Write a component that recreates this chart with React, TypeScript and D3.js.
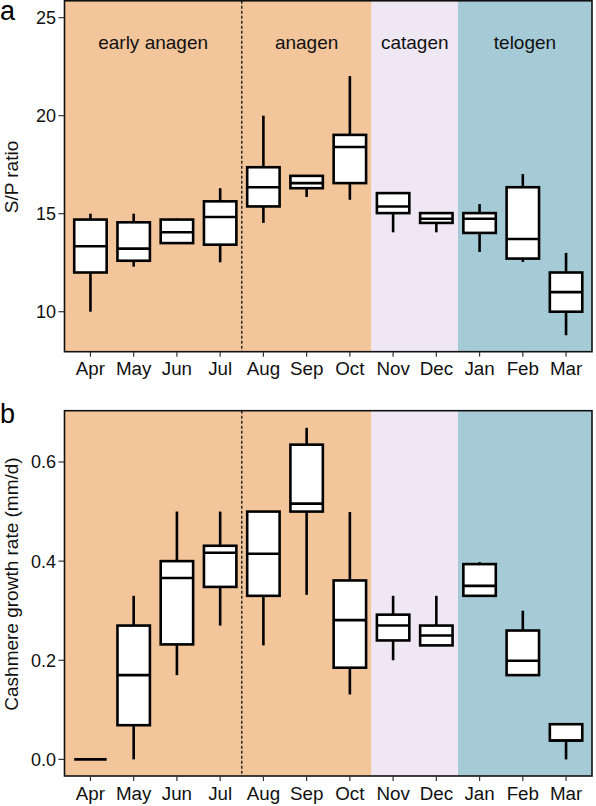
import React from "react";
import * as d3 from "d3";

const months = ["Apr", "May", "Jun", "Jul", "Aug", "Sep", "Oct", "Nov", "Dec", "Jan", "Feb", "Mar"];

// S/P ratio boxes
const spMin = [10.0, 12.3, 13.5, 12.52, 14.53, 15.85, 15.71, 14.05, 14.05, 13.05, 12.54, 8.8];
const spQ1 = [12.0, 12.6, 13.5, 13.42, 15.37, 16.3, 16.56, 15.03, 14.53, 14.02, 12.71, 10.0];
const spMed = [13.34, 13.22, 14.05, 14.83, 16.35, 16.56, 18.4, 15.37, 14.74, 14.74, 13.71, 11.0];
const spQ3 = [14.7, 14.56, 14.7, 15.63, 17.37, 16.93, 19.02, 16.05, 15.03, 15.03, 16.35, 12.0];
const spMax = [15.0, 15.0, 14.75, 16.3, 20.0, 16.93, 22.02, 16.05, 15.03, 15.49, 17.02, 13.0];

// Cashmere growth rate boxes
const grMin = [0, 0, 0.17, 0.27, 0.23, 0.332, 0.131, 0.2, 0.23, 0.33, 0.17, 0.0];
const grQ1 = [0, 0.069, 0.232, 0.348, 0.33, 0.5, 0.185, 0.24, 0.23, 0.33, 0.17, 0.038];
const grMed = [0, 0.17, 0.366, 0.417, 0.415, 0.516, 0.281, 0.27, 0.25, 0.35, 0.199, 0.038];
const grQ3 = [0, 0.27, 0.4, 0.431, 0.5, 0.635, 0.361, 0.292, 0.27, 0.394, 0.26, 0.071];
const grMax = [0, 0.33, 0.5, 0.5, 0.5, 0.669, 0.499, 0.33, 0.33, 0.398, 0.3, 0.071];

const spTicks = [10, 15, 20, 25];
const grTicks = [0.0, 0.2, 0.4, 0.6];

const phases = [
  { name: "early anagen", from: "Apr", to: "Jul", color: "#F2C59B" },
  { name: "anagen", from: "Aug", to: "Oct", color: "#F2C59B" },
  { name: "catagen", from: "Nov", to: "Dec", color: "#EFE7F4" },
  { name: "telogen", from: "Jan", to: "Mar", color: "#A2C9D5" },
];

const LEFT = 64.5;
const RIGHT = 592;
const FONT = "'Liberation Sans', Arial, Helvetica, sans-serif";

const x = d3.scalePoint<string>().domain(months).range([LEFT, RIGHT]).padding(0.6);
const step = x.step();
const boxW = step * 0.75;

type PanelProps = {
  top: number;
  bottom: number;
  domain: [number, number];
  ticks: number[];
  fmt: (v: number) => string;
  mins: number[];
  q1: number[];
  med: number[];
  q3: number[];
  maxs: number[];
  ylabel: string;
  ylabelY: number;
  letter: string;
  letterY: number;
  showPhaseNames: boolean;
  patternId: string;
};

function Panel(p: PanelProps) {
  const y = d3.scaleLinear().domain(p.domain).range([p.bottom, p.top]);
  return (
    <g>
      {phases.map((ph, i) => {
        const x0 = i === 0 ? LEFT : (x(ph.from) as number) - step / 2;
        const x1 = i === phases.length - 1 ? RIGHT : (x(ph.to) as number) + step / 2;
        return (
          <g key={ph.name}>
            <rect x={x0} y={p.top} width={x1 - x0} height={p.bottom - p.top} fill={ph.color} />
            {ph.name === "telogen" && (
              <rect x={x0} y={p.top} width={x1 - x0} height={p.bottom - p.top} fill={`url(#${p.patternId})`} />
            )}
            {p.showPhaseNames && (
              <text
                x={(x0 + x1) / 2}
                y={p.top + 48}
                textAnchor="middle"
                fontSize={19}
                fontFamily={FONT}
                fill="#111"
              >
                {ph.name}
              </text>
            )}
          </g>
        );
      })}
      <line
        x1={(x("Jul") as number) + step / 2}
        x2={(x("Jul") as number) + step / 2}
        y1={p.top}
        y2={p.bottom}
        stroke="#111"
        strokeWidth={1.3}
        strokeDasharray="3,2"
      />
      {months.map((m, i) => {
        const cx = x(m) as number;
        const yq1 = y(p.q1[i]);
        const yq3 = y(p.q3[i]);
        return (
          <g key={m}>
            <line x1={cx} x2={cx} y1={y(p.maxs[i])} y2={yq3} stroke="#000" strokeWidth={2.6} />
            <line x1={cx} x2={cx} y1={y(p.mins[i])} y2={yq1} stroke="#000" strokeWidth={2.6} />
            <rect
              x={cx - boxW / 2}
              y={yq3}
              width={boxW}
              height={Math.max(0, yq1 - yq3)}
              fill="#fff"
              stroke="#000"
              strokeWidth={2.6}
            />
            <line
              x1={cx - boxW / 2}
              x2={cx + boxW / 2}
              y1={y(p.med[i])}
              y2={y(p.med[i])}
              stroke="#000"
              strokeWidth={2.6}
            />
          </g>
        );
      })}
      <rect
        x={LEFT}
        y={p.top}
        width={RIGHT - LEFT}
        height={p.bottom - p.top}
        fill="none"
        stroke="#111"
        strokeWidth={1.6}
      />
      {p.ticks.map((t) => (
        <g key={t}>
          <line x1={LEFT - 6} x2={LEFT} y1={y(t)} y2={y(t)} stroke="#333" strokeWidth={1.2} />
          <text
            x={LEFT - 8.5}
            y={y(t)}
            dy="0.36em"
            textAnchor="end"
            fontSize={18}
            fontFamily={FONT}
            fill="#111"
          >
            {p.fmt(t)}
          </text>
        </g>
      ))}
      {months.map((m) => (
        <g key={"t" + m}>
          <line
            x1={x(m) as number}
            x2={x(m) as number}
            y1={p.bottom}
            y2={p.bottom + 5}
            stroke="#333"
            strokeWidth={1.2}
          />
          <text
            x={x(m) as number}
            y={p.bottom + 23.5}
            textAnchor="middle"
            fontSize={18.8}
            fontFamily={FONT}
            fill="#111"
          >
            {m}
          </text>
        </g>
      ))}
      <text
        transform={`translate(17.5,${p.ylabelY}) rotate(-90)`}
        textAnchor="middle"
        fontSize={19}
        fontFamily={FONT}
        fill="#111"
      >
        {p.ylabel}
      </text>
      <text x={0} y={p.letterY} fontSize={27} fontFamily={FONT} fill="#000">
        {p.letter}
      </text>
    </g>
  );
}

export default function App() {
  return (
    <svg
      width={596}
      height={806}
      style={{ position: "absolute", left: 0, top: 0, background: "#fff" }}
    >
      <defs>
        {["dotsA", "dotsB"].map((id) => (
          <pattern key={id} id={id} width={4} height={4} patternUnits="userSpaceOnUse">
            <circle cx={1} cy={1} r={0.6} fill="#fff" opacity={0.35} />
            <circle cx={3} cy={3} r={0.5} fill="#fff" opacity={0.2} />
          </pattern>
        ))}
      </defs>
      <Panel
        top={0.8}
        bottom={351.7}
        domain={[7.96, 25.86]}
        ticks={spTicks}
        fmt={(v) => String(v)}
        mins={spMin}
        q1={spQ1}
        med={spMed}
        q3={spQ3}
        maxs={spMax}
        ylabel="S/P ratio"
        ylabelY={177}
        letter="a"
        letterY={20}
        showPhaseNames={true}
        patternId="dotsA"
      />
      <Panel
        top={410.7}
        bottom={776}
        domain={[-0.0335, 0.7035]}
        ticks={grTicks}
        fmt={(v) => v.toFixed(1)}
        mins={grMin}
        q1={grQ1}
        med={grMed}
        q3={grQ3}
        maxs={grMax}
        ylabel="Cashmere growth rate (mm/d)"
        ylabelY={584}
        letter="b"
        letterY={423}
        showPhaseNames={false}
        patternId="dotsB"
      />
    </svg>
  );
}
